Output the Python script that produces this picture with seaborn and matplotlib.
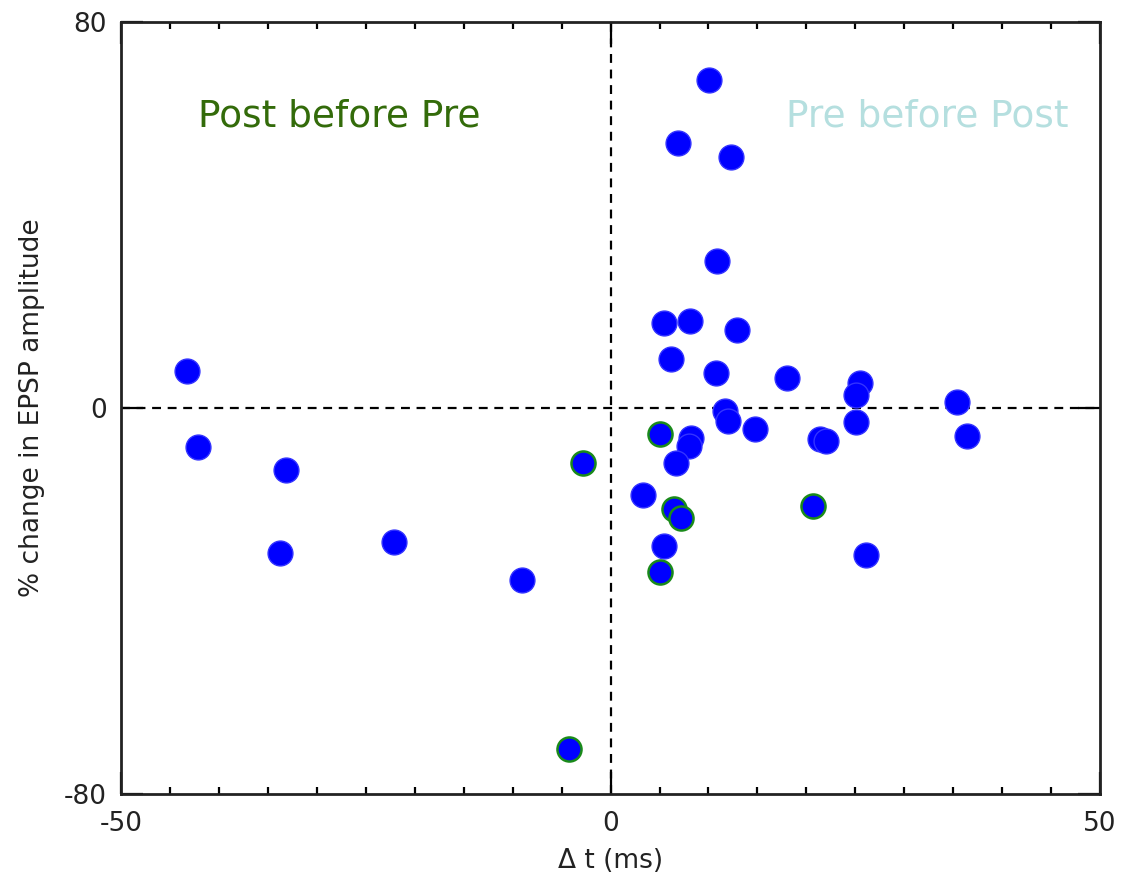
import numpy as np
import pandas as pd
import matplotlib
matplotlib.use('Agg')
import matplotlib.pyplot as plt
import seaborn as sns
from matplotlib.ticker import MultipleLocator

sns.set_style('white')
plt.rcParams['font.family'] = ['DejaVu Sans']

# =========================
# Data
# =========================
# plain blue points
dt_blue = [-43.3, -42.1, -33.2, -33.8, -22.1, -9.0, 10.1, 6.9, 12.3, 10.9,
           5.5, 8.1, 12.9, 6.2, 10.8, 18.0, 25.5, 25.1, 35.4, 11.7,
           12.0, 14.8, 8.2, 8.0, 21.4, 22.0, 25.1, 36.4, 6.7, 3.3,
           5.5, 26.1]
epsp_blue = [7.7, -8.1, -12.8, -30.0, -27.8, -35.6, 68.0, 54.9, 52.0, 30.5,
             17.6, 18.0, 16.2, 10.2, 7.3, 6.2, 5.2, 2.7, 1.2, -0.6,
             -2.8, -4.4, -6.2, -7.8, -6.4, -6.9, -3.0, -5.8, -11.4, -18.0,
             -28.6, -30.5]

# points drawn with a green outline
dt_green = [-2.8, -4.2, 5.1, 6.5, 7.2, 20.7, 5.1]
epsp_green = [-11.4, -70.7, -5.4, -20.9, -22.9, -20.3, -34.0]

df_blue = pd.DataFrame({'dt': dt_blue, 'epsp': epsp_blue})
df_green = pd.DataFrame({'dt': dt_green, 'epsp': epsp_green})

# =========================
# Plot
# =========================
fig = plt.figure(figsize=(11.27, 8.82), dpi=100)
ax = fig.add_axes([0.1074, 0.0998, 0.8687, 0.8753])

ax.axhline(0, color='black', linestyle=(0, (4, 3)), linewidth=1.6, zorder=1)
ax.axvline(0, color='black', linestyle=(0, (4, 3)), linewidth=1.6, zorder=1)

sns.scatterplot(data=df_blue, x='dt', y='epsp', ax=ax, color='#0000ff',
                edgecolor='#3333ff', linewidth=1, s=320, zorder=3)
sns.scatterplot(data=df_green, x='dt', y='epsp', ax=ax, color='#0000ff',
                edgecolor='#1a8a1a', linewidth=1.8, s=300, zorder=3)

ax.set_xlim(-50, 50)
ax.set_ylim(-80, 80)

ax.set_xticks([-50, 0, 50])
ax.set_xticklabels(['-50', '0', '50'])
ax.set_yticks([-80, 0, 80])
ax.set_yticklabels(['-80', '0', '80'])
ax.xaxis.set_minor_locator(MultipleLocator(5))

ax.tick_params(axis='both', which='major', direction='in', length=16,
               width=1.6, color='black', labelsize=19, labelcolor='#222222',
               top=True, right=True, bottom=True, left=True)
ax.tick_params(axis='x', which='minor', direction='in', length=5,
               width=1.6, color='black', top=True, bottom=True)
ax.tick_params(axis='x', which='major', pad=12)
ax.tick_params(axis='y', which='major', pad=10)

for side in ['left', 'right', 'top', 'bottom']:
    ax.spines[side].set_color('#222222')
    ax.spines[side].set_linewidth(2)

ax.set_xlabel('Δ t (ms)', fontsize=19, color='#222222', labelpad=8)
ax.set_ylabel('% change in EPSP amplitude', fontsize=19, color='#222222',
              labelpad=14)

ax.text(-42.1, 60.5, 'Post before Pre', color='#336b0a', fontsize=27,
        ha='left', va='center')
ax.text(46.8, 60.5, 'Pre before Post', color='#b5dfdf', fontsize=27,
        ha='right', va='center')

plt.savefig('out.png', dpi=100)
